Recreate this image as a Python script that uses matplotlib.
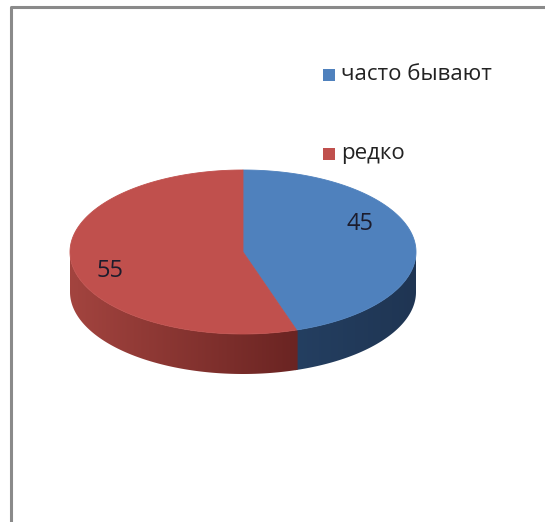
import matplotlib
matplotlib.use("Agg")
import matplotlib.pyplot as plt
import numpy as np
from matplotlib.patches import Polygon, Rectangle
from matplotlib.colors import to_rgb

# chart data
categories = ['часто бывают', 'редко']
values = [45, 55]
top_colors = ['#4f81bd', '#c0504d']
# side shading: (colour at start of slice, colour at end of slice)
side_colors = [('#1f3553', '#243f61'), ('#6a2422', '#a3443f')]

plt.rcParams['font.family'] = ['Open Sans', 'DejaVu Sans']

W, H = 545, 522
fig = plt.figure(figsize=(W / 100, H / 100), dpi=100)
ax = fig.add_axes([0, 0, 1, 1])
ax.set_xlim(0, W)
ax.set_ylim(H, 0)
ax.axis('off')

# frame (clipped at right and bottom)
ax.plot([11, 11, W], [H, 7, 7], color='#8a8a8a', lw=2.2, solid_capstyle='butt')

# pie geometry
cx, cy, a, b, depth = 243, 252, 173, 82, 40


def rim(theta):
    t = np.radians(theta)
    return cx + a * np.sin(t), cy - b * np.cos(t)


bounds = np.concatenate([[0], np.cumsum(values)]) / sum(values) * 360

# sides (front half only: 90..270 deg clockwise from top), shaded by a clipped gradient
for i in range(len(values)):
    s, e = max(bounds[i], 90), min(bounds[i + 1], 270)
    if e <= s:
        continue
    # small overlap so neighbouring sides leave no gap
    th = np.linspace(max(s - 0.4, 90), min(e + 0.4, 270), 200)
    xs, ys = rim(th)
    pts = list(zip(xs, ys)) + list(zip(xs[::-1], ys[::-1] + depth))
    side = Polygon(pts, closed=True, facecolor='none', edgecolor='none')
    ax.add_patch(side)
    c0, c1 = np.array(to_rgb(side_colors[i][0])), np.array(to_rgb(side_colors[i][1]))
    xa, xb = xs.min(), xs.max()
    f = np.linspace(0, 1, 256)
    if xs[0] > xs[-1]:
        f = f[::-1]  # start colour at the slice start
    grad = c0[None, :] + (c1 - c0)[None, :] * f[:, None]
    im = ax.imshow(grad[None, :, :], extent=(xa, xb, ys.max() + depth + 2, ys.min() - 2),
                   aspect='auto', interpolation='bilinear', zorder=1)
    im.set_clip_path(side)

ax.set_xlim(0, W)
ax.set_ylim(H, 0)

# top faces
for i in range(len(values)):
    th = np.linspace(bounds[i], bounds[i + 1], 200)
    xs, ys = rim(th)
    pts = [(cx, cy)] + list(zip(xs, ys))
    ax.add_patch(Polygon(pts, closed=True, facecolor=top_colors[i],
                         edgecolor=top_colors[i], lw=0.6, zorder=2))

# value labels
label_pos = [(360, 224), (110, 271)]
for v, (lx, ly) in zip(values, label_pos):
    ax.text(lx, ly, str(v), fontsize=17, color='#1c1c2c', ha='center', va='center', zorder=3)

# legend
legend_y = [75, 154]
for cat, col, ly in zip(categories, top_colors, legend_y):
    ax.add_patch(Rectangle((323, ly - 6), 12, 12, facecolor=col, edgecolor='none'))
    ax.text(341, ly, cat, fontsize=16, color='#222222', ha='left', va='center')

fig.savefig('out.png', dpi=100)
